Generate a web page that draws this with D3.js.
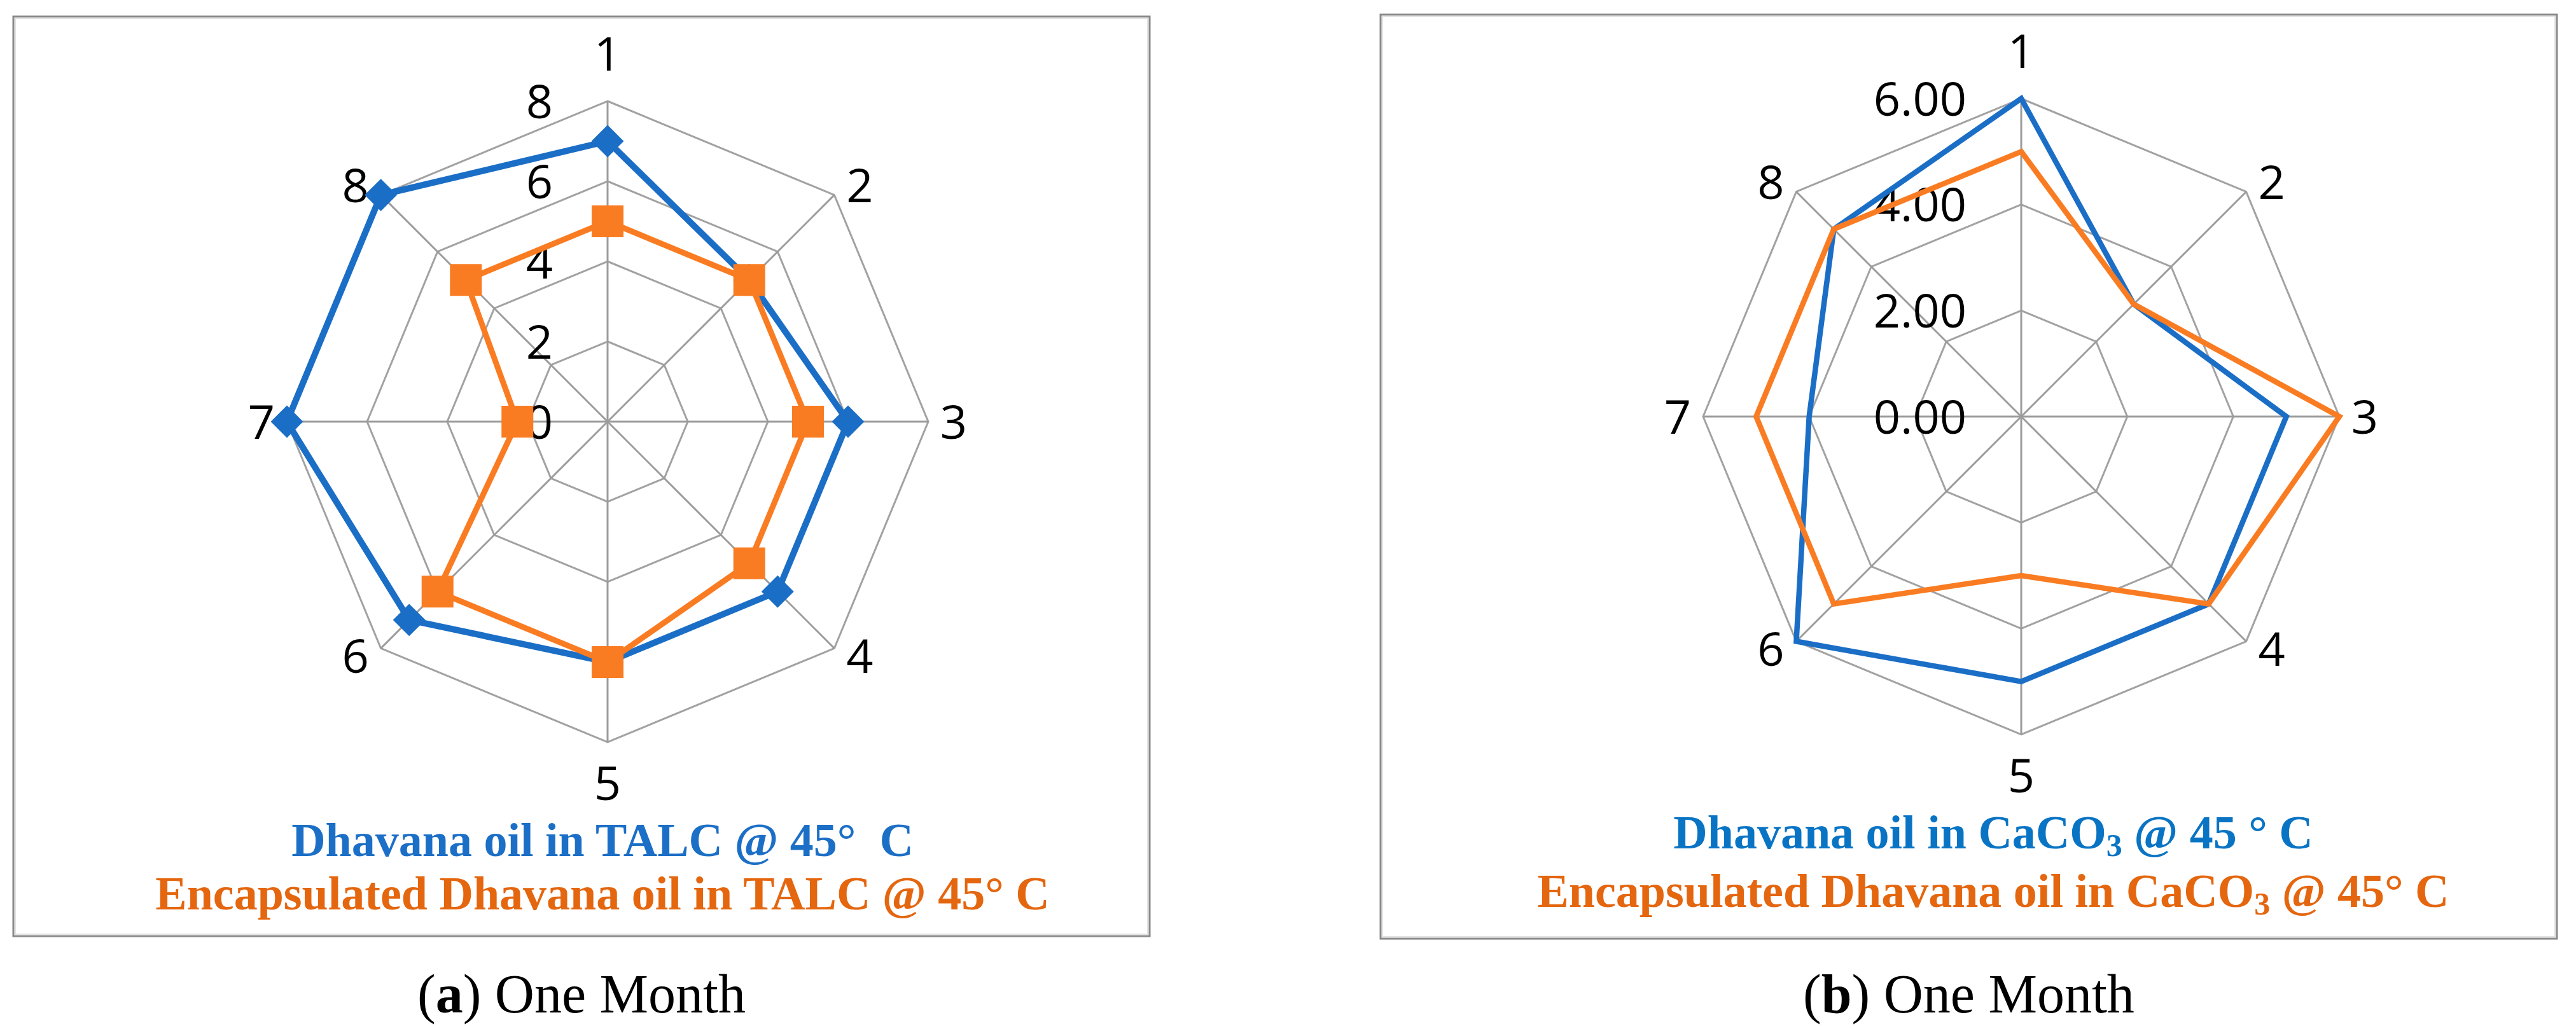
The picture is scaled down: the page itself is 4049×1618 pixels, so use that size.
<!DOCTYPE html>
<html>
<head>
<meta charset="utf-8">
<script src="https://cdn.jsdelivr.net/npm/d3@7"></script>
<style>
body { margin: 0; background: #fff; }
svg text { white-space: pre; }
</style>
</head>
<body>
<div id="chart"></div>
<script>
// spokes 1..8
var axisNames = ["1", "2", "3", "4", "5", "6", "7", "8"];

// (a) TALC
var talcTicks = [0, 2, 4, 6, 8];
var talcOil = [7, 5, 6, 6, 6, 7, 8, 8];
var talcEnc = [5, 5, 5, 5, 6, 6, 2.25, 5];

// (b) CaCO3
var cacoTicks = [0, 2, 4, 6];
var cacoOil = [6, 3, 5, 5, 5, 6, 4, 5];
var cacoEnc = [5, 3, 6, 5, 3, 5, 5, 5];

var seriesNames = ["Dhavana oil", "Encapsulated Dhavana oil"];
var captions = [["a", " One Month"], ["b", " One Month"]];

function init() {
    var w = 4049, h = 1618;
    var blue = "#1b6ec6", orange = "#fa7c22";
    var orangeText = "#e4660f";

    var svg = d3.select("#chart").append("svg")
        .attr("width", w)
        .attr("height", h);

    var panels = [
        {
            box: [21, 26, 1807, 1472], cx: 955, cy: 663, r: 504,
            ticks: talcTicks, fmt: d3.format("d"),
            values: [talcOil, talcEnc], markers: true,
            legend: [
                [{t: seriesNames[0] + " in TALC @ 45°  C"}],
                [{t: seriesNames[1] + " in TALC @ 45° C"}]
            ],
            legendX: 947, legendY: [1346, 1430],
            blueText: "#1c6fc6",
            caption: captions[0]
        },
        {
            box: [2170, 23, 4019, 1476], cx: 3177, cy: 655, r: 500,
            ticks: cacoTicks, fmt: d3.format(".2f"),
            values: [cacoOil, cacoEnc], markers: false,
            legend: [
                [{t: seriesNames[0] + " in CaCO"}, {t: "3", sub: true}, {t: " @ 45 ° C"}],
                [{t: seriesNames[1] + " in CaCO"}, {t: "3", sub: true}, {t: " @ 45° C"}]
            ],
            legendX: 3133, legendY: [1334, 1426],
            blueText: "#0a74c4",
            caption: captions[1]
        }
    ];

    panels.forEach(function(p) {
        drawPanel(p);
    });

    function labelPos(i, rr) {
        var a = i * Math.PI / 4, s = Math.sin(a), c = Math.cos(a);
        var x = rr * s, y = -rr * c;
        if (Math.abs(s) < 0.01) {
            y += (c > 0 ? -75 : 64);
        } else {
            x += 40 * Math.sign(s);
            if (Math.abs(c) > 0.01) y += (c > 0 ? -15 : 12);
        }
        return [x, y];
    }

    function drawPanel(p) {
        var b = p.box;
        // frame, with a faint inner edge like the original
        svg.append("rect")
            .attr("x", b[0]).attr("y", b[1])
            .attr("width", b[2] - b[0]).attr("height", b[3] - b[1])
            .attr("fill", "#fff")
            .attr("stroke", "#8a8a8a")
            .attr("stroke-width", 3);
        svg.append("rect")
            .attr("x", b[0] + 3).attr("y", b[1] + 3)
            .attr("width", b[2] - b[0] - 6).attr("height", b[3] - b[1] - 6)
            .attr("fill", "none")
            .attr("stroke", "#e2e2e2")
            .attr("stroke-width", 2);

        var maxV = p.ticks[p.ticks.length - 1];
        var rScale = d3.scaleLinear().domain([0, maxV]).range([0, p.r]);
        var angle = function(d, i) { return i * 2 * Math.PI / axisNames.length; };

        var g = svg.append("g")
            .attr("transform", "translate(" + p.cx + "," + p.cy + ")");

        // rings
        var ring = d3.lineRadial().angle(angle).curve(d3.curveLinearClosed);
        p.ticks.filter(function(t) { return t > 0; }).forEach(function(t) {
            g.append("path")
                .attr("d", ring.radius(rScale(t))(axisNames))
                .attr("fill", "none")
                .attr("stroke", "#a2a2a2")
                .attr("stroke-width", 3);
        });

        // spokes
        g.selectAll(".spoke")
            .data(axisNames)
            .enter()
            .append("line")
            .attr("x1", 0).attr("y1", 0)
            .attr("x2", function(d, i) { return rScale(maxV) * Math.sin(angle(d, i)); })
            .attr("y2", function(d, i) { return -rScale(maxV) * Math.cos(angle(d, i)); })
            .attr("stroke", "#9c9c9c")
            .attr("stroke-width", 3);

        // tick labels
        g.selectAll(".tick")
            .data(p.ticks)
            .enter()
            .append("text")
            .attr("x", -86)
            .attr("y", function(d) { return -rScale(d); })
            .attr("dy", "0.36em")
            .attr("text-anchor", "end")
            .style("font-family", "'Open Sans', sans-serif")
            .style("font-size", "74px")
            .attr("fill", "#000")
            .text(p.fmt);

        // category labels
        g.selectAll(".cat")
            .data(axisNames)
            .enter()
            .append("text")
            .attr("x", function(d, i) { return labelPos(i, rScale(maxV))[0]; })
            .attr("y", function(d, i) { return labelPos(i, rScale(maxV))[1]; })
            .attr("dy", "0.36em")
            .attr("text-anchor", "middle")
            .style("font-family", "'Open Sans', sans-serif")
            .style("font-size", "74px")
            .attr("fill", "#000")
            .text(function(d) { return d; });

        // series
        var colors = [blue, orange];
        var widths = p.markers ? [10, 9] : [8.5, 8.5];
        var line = d3.lineRadial()
            .angle(angle)
            .radius(function(d) { return rScale(d); })
            .curve(d3.curveLinearClosed);

        p.values.forEach(function(vals, k) {
            g.append("path")
                .attr("d", line(vals))
                .attr("fill", "none")
                .attr("stroke", colors[k])
                .attr("stroke-width", widths[k])
                .attr("stroke-linejoin", "miter");
        });

        if (p.markers) {
            var diamond = d3.symbol().type(d3.symbolSquare).size(36 * 36);
            var square = d3.symbol().type(d3.symbolSquare).size(50 * 50);
            g.selectAll(".mk-oil")
                .data(p.values[0])
                .enter()
                .append("path")
                .attr("d", diamond)
                .attr("transform", function(d, i) {
                    var a = angle(d, i);
                    return "translate(" + (rScale(d) * Math.sin(a)) + "," + (-rScale(d) * Math.cos(a)) + ") rotate(45)";
                })
                .attr("fill", blue);
            g.selectAll(".mk-enc")
                .data(p.values[1])
                .enter()
                .append("path")
                .attr("d", square)
                .attr("transform", function(d, i) {
                    var a = angle(d, i);
                    return "translate(" + (rScale(d) * Math.sin(a)) + "," + (-rScale(d) * Math.cos(a)) + ")";
                })
                .attr("fill", orange);
        }

        // legend
        var textColors = [p.blueText, orangeText];
        p.legend.forEach(function(parts, k) {
            var t = svg.append("text")
                .attr("x", p.legendX)
                .attr("y", p.legendY[k])
                .attr("text-anchor", "middle")
                .style("font-family", "'Liberation Serif', 'Times New Roman', serif")
                .style("font-weight", "bold")
                .style("font-size", "74px")
                .attr("fill", textColors[k]);
            parts.forEach(function(part, j) {
                var ts = t.append("tspan").text(part.t);
                if (part.sub) {
                    ts.style("font-size", "50px").attr("dy", 12);
                } else if (j > 0 && parts[j - 1].sub) {
                    ts.attr("dy", -12);
                }
            });
        });

        // caption
        var cap = svg.append("text")
            .attr("x", (b[0] + b[2]) / 2)
            .attr("y", 1592)
            .attr("text-anchor", "middle")
            .style("font-family", "'Liberation Serif', 'Times New Roman', serif")
            .style("font-size", "86px")
            .attr("fill", "#000");
        cap.append("tspan").text("(");
        cap.append("tspan").style("font-weight", "bold").text(p.caption[0]);
        cap.append("tspan").text(")" + p.caption[1]);
    }
}

window.onload = init;
</script>
</body>
</html>
